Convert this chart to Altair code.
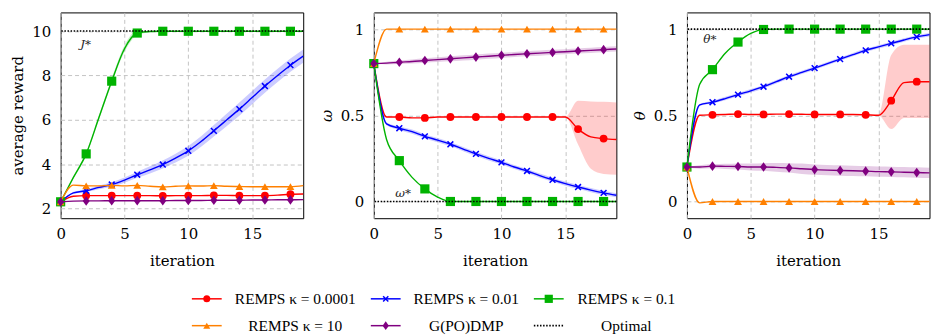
import altair as alt
import pandas as pd

# ---------------- data ----------------
iterations = list(range(20))

series_names = ["REMPS κ = 0.0001", "REMPS κ = 0.01", "REMPS κ = 0.1", "REMPS κ = 10", "G(PO)DMP"]
optimal_label = "Optimal"

# panel 1: average reward
reward_red = [2.30, 2.55, 2.58, 2.58, 2.58, 2.58, 2.58, 2.58, 2.57, 2.58, 2.58, 2.58, 2.59, 2.59, 2.58, 2.58, 2.58, 2.60, 2.64, 2.65]
reward_blue = [2.30, 2.70, 2.80, 2.95, 3.08, 3.28, 3.52, 3.74, 3.98, 4.27, 4.60, 5.02, 5.50, 5.99, 6.48, 7.00, 7.52, 8.00, 8.46, 8.87]
reward_green = [2.30, 3.40, 4.46, 6.10, 7.74, 9.20, 9.91, 9.98, 9.99, 9.99, 9.99, 9.99, 9.99, 9.99, 9.99, 9.99, 9.99, 9.99, 9.99, 9.99]
reward_orange = [2.30, 3.05, 3.02, 3.02, 3.04, 3.02, 3.04, 3.00, 2.97, 3.00, 3.02, 3.01, 3.03, 3.00, 2.99, 2.98, 2.98, 2.98, 2.98, 3.03]
reward_purple = [2.30, 2.33, 2.34, 2.34, 2.35, 2.35, 2.35, 2.35, 2.35, 2.36, 2.36, 2.36, 2.37, 2.37, 2.37, 2.38, 2.38, 2.39, 2.39, 2.40]
reward_blue_band = [0.0, 0.05, 0.06, 0.08, 0.10, 0.12, 0.14, 0.16, 0.18, 0.20, 0.22, 0.24, 0.26, 0.28, 0.30, 0.30, 0.30, 0.30, 0.30, 0.30]
reward_green_band = [0.0, 0.05, 0.08, 0.10, 0.12, 0.15, 0.10, 0.03, 0.0, 0.0, 0.0, 0.0, 0.0, 0.0, 0.0, 0.0, 0.0, 0.0, 0.0, 0.0]
reward_optimal = 10

# panel 2: omega
omega_red = [0.80, 0.49, 0.49, 0.485, 0.485, 0.49, 0.49, 0.49, 0.49, 0.49, 0.49, 0.49, 0.49, 0.49, 0.49, 0.49, 0.42, 0.375, 0.365, 0.36]
omega_red_lo = [0.80, 0.49, 0.49, 0.485, 0.485, 0.49, 0.49, 0.49, 0.49, 0.49, 0.49, 0.49, 0.49, 0.49, 0.49, 0.49, 0.33, 0.19, 0.16, 0.155]
omega_red_hi = [0.80, 0.49, 0.49, 0.485, 0.485, 0.49, 0.49, 0.49, 0.49, 0.49, 0.49, 0.49, 0.49, 0.49, 0.49, 0.49, 0.585, 0.58, 0.578, 0.575]
omega_blue = [0.80, 0.45, 0.425, 0.405, 0.378, 0.356, 0.332, 0.304, 0.276, 0.25, 0.227, 0.20, 0.177, 0.15, 0.126, 0.104, 0.084, 0.066, 0.05, 0.036]
omega_green = [0.80, 0.36, 0.237, 0.14, 0.073, 0.025, 0.0, 0.0, 0.0, 0.0, 0.0, 0.0, 0.0, 0.0, 0.0, 0.0, 0.0, 0.0, 0.0, 0.0]
omega_orange = [0.80, 1.0, 1.0, 1.0, 1.0, 1.0, 1.0, 1.0, 1.0, 1.0, 1.0, 1.0, 1.0, 1.0, 1.0, 1.0, 1.0, 1.0, 1.0, 1.0]
omega_purple = [0.80, 0.803, 0.808, 0.812, 0.818, 0.823, 0.828, 0.833, 0.838, 0.843, 0.848, 0.853, 0.857, 0.861, 0.865, 0.869, 0.873, 0.877, 0.881, 0.885]
omega_blue_band = [0.0, 0.008, 0.01, 0.012, 0.012, 0.012, 0.012, 0.012, 0.012, 0.012, 0.012, 0.012, 0.012, 0.012, 0.012, 0.012, 0.012, 0.012, 0.012, 0.012]
omega_purple_band = [0.0, 0.008, 0.01, 0.012, 0.013, 0.014, 0.015, 0.015, 0.015, 0.015, 0.015, 0.015, 0.015, 0.015, 0.015, 0.015, 0.015, 0.015, 0.015, 0.015]
omega_optimal = 0

# panel 3: theta
theta_red = [0.20, 0.50, 0.503, 0.505, 0.507, 0.505, 0.505, 0.507, 0.507, 0.506, 0.505, 0.505, 0.505, 0.505, 0.503, 0.50, 0.585, 0.69, 0.695, 0.695]
theta_red_lo = [0.20, 0.50, 0.503, 0.505, 0.507, 0.505, 0.505, 0.507, 0.507, 0.506, 0.505, 0.505, 0.505, 0.505, 0.503, 0.50, 0.42, 0.485, 0.485, 0.485]
theta_red_hi = [0.20, 0.50, 0.503, 0.505, 0.507, 0.505, 0.505, 0.507, 0.507, 0.506, 0.505, 0.505, 0.505, 0.505, 0.503, 0.50, 0.85, 0.91, 0.91, 0.91]
theta_blue = [0.20, 0.56, 0.576, 0.597, 0.62, 0.642, 0.666, 0.695, 0.724, 0.749, 0.774, 0.80, 0.826, 0.852, 0.877, 0.897, 0.917, 0.937, 0.955, 0.968]
theta_green = [0.20, 0.68, 0.765, 0.86, 0.925, 0.975, 0.998, 1.0, 1.0, 1.0, 1.0, 1.0, 1.0, 1.0, 1.0, 1.0, 1.0, 1.0, 1.0, 1.0]
theta_orange = [0.20, -0.008, 0.0, 0.0, 0.0, 0.0, 0.0, 0.0, 0.0, 0.0, 0.0, 0.0, 0.0, 0.0, 0.0, 0.0, 0.0, 0.0, 0.0, 0.0]
theta_purple = [0.20, 0.20, 0.205, 0.204, 0.203, 0.20, 0.20, 0.198, 0.195, 0.19, 0.185, 0.182, 0.18, 0.178, 0.176, 0.173, 0.172, 0.17, 0.168, 0.166]
theta_blue_band = [0.0, 0.006, 0.008, 0.01, 0.01, 0.01, 0.01, 0.01, 0.01, 0.01, 0.01, 0.01, 0.01, 0.01, 0.01, 0.01, 0.01, 0.01, 0.01, 0.01]
theta_purple_band = [0.0, 0.01, 0.012, 0.015, 0.018, 0.02, 0.022, 0.025, 0.027, 0.03, 0.03, 0.03, 0.03, 0.03, 0.03, 0.03, 0.03, 0.03, 0.03, 0.03]
theta_optimal = 1

# annotation labels for the optimum
opt_labels = ["J*", "ω*", "θ*"]
opt_label_x = [1.95, 2.3, 1.8]
opt_label_y = [9.4, 0.05, 0.94]

# ---------------- styles ----------------
COLORS = ["#ff0000", "#0000ff", "#00b300", "#ff8000", "#800080"]
X_SHAPE = "M-1,-1L1,1M-1,1L1,-1"
DIAMOND = "M0,-1L0.72,0L0,1L-0.72,0Z"
MARKERS = [
    dict(shape="circle", size=62, filled=True),
    dict(shape=X_SHAPE, size=34, filled=False, strokeWidth=1.5),
    dict(shape="square", size=85, filled=True),
    dict(shape="triangle-up", size=62, filled=True),
    dict(shape=DIAMOND, size=95, filled=True),
]
AXFONT = "DejaVu Serif"
PW, PH = 244, 207


def band_frame(vals, lo=None, hi=None, half=None):
    df = pd.DataFrame({"iter": iterations, "v": vals})
    if half is not None:
        df["lo"] = [a - b for a, b in zip(vals, half)]
        df["hi"] = [a + b for a, b in zip(vals, half)]
    else:
        df["lo"] = lo
        df["hi"] = hi
    return df


def panel(series, bands, ydomain, yticks, ytitle, italic, opt, li):
    xs = alt.Scale(domain=[0, 19], nice=False, zero=False)
    ys = alt.Scale(domain=ydomain, nice=False, zero=False)
    xaxis = alt.Axis(values=[0, 5, 10, 15], grid=True, gridDash=[4, 3], gridColor="#bdbdbd",
                     gridWidth=0.9, ticks=False, tickSize=0, domain=False, labelFont=AXFONT,
                     labelFontSize=15, labelColor="black", labelPadding=8, labelFlush=False,
                     title="iteration", titleFont=AXFONT, titleFontSize=15,
                     titleFontWeight="normal", titleColor="black", titlePadding=13)
    yaxis_kw = dict(values=yticks, format="~r", grid=True, gridDash=[4, 3], gridColor="#bdbdbd",
                    gridWidth=0.9, ticks=False, tickSize=0, domain=False, labelFont=AXFONT,
                    labelFontSize=15, labelColor="black", labelPadding=10, labelFlush=False,
                    title=ytitle, titleFont=AXFONT, titleFontSize=15, titleFontWeight="normal",
                    titleColor="black", titlePadding=6)
    if italic:
        yaxis_kw["titleFontStyle"] = "italic"
    yaxis = alt.Axis(**yaxis_kw)
    X = alt.X("iter:Q", scale=xs, axis=xaxis)
    layers = []
    for idx, df in bands:
        layers.append(
            alt.Chart(df).mark_area(color=COLORS[idx], opacity=0.2, interpolate="monotone").encode(
                x=X, y=alt.Y("lo:Q", scale=ys, axis=yaxis), y2="hi:Q"))
    for idx, vals in enumerate(series):
        df = pd.DataFrame({"iter": iterations, "v": vals})
        layers.append(
            alt.Chart(df).mark_line(color=COLORS[idx], strokeWidth=1.4, interpolate="monotone").encode(
                x=X, y=alt.Y("v:Q", scale=ys, axis=yaxis)))
        m = MARKERS[idx]
        kw = dict(shape=m["shape"], size=m["size"], filled=m["filled"], color=COLORS[idx], opacity=1)
        if "strokeWidth" in m:
            kw["strokeWidth"] = m["strokeWidth"]
        layers.append(
            alt.Chart(df).transform_filter("datum.iter % 2 == 0").mark_point(**kw).encode(
                x=X, y=alt.Y("v:Q", scale=ys, axis=yaxis)))
    layers.append(
        alt.Chart(pd.DataFrame({"v": [opt]})).mark_rule(color="black", strokeWidth=1.6,
                                                       strokeDash=[1.5, 1.6]).encode(
            y=alt.Y("v:Q", scale=ys, axis=yaxis)))
    layers.append(
        alt.Chart(pd.DataFrame({"iter": [opt_label_x[li]], "v": [opt_label_y[li]],
                                "t": [opt_labels[li]]})).mark_text(
            font=AXFONT, fontStyle="italic", fontSize=12, color="#222222").encode(
            x=X, y=alt.Y("v:Q", scale=ys, axis=yaxis), text="t:N"))
    return alt.layer(*layers).properties(width=PW, height=PH)


p1 = panel([reward_red, reward_blue, reward_green, reward_orange, reward_purple],
           [(1, band_frame(reward_blue, half=reward_blue_band)),
            (2, band_frame(reward_green, half=reward_green_band))],
           [1.56, 10.84], [2, 4, 6, 8, 10], "average reward", False, reward_optimal, 0)
p2 = panel([omega_red, omega_blue, omega_green, omega_orange, omega_purple],
           [(0, band_frame(omega_red, lo=omega_red_lo, hi=omega_red_hi)),
            (1, band_frame(omega_blue, half=omega_blue_band)),
            (4, band_frame(omega_purple, half=omega_purple_band))],
           [-0.097, 1.097], [0, 0.5, 1], "ω", True, omega_optimal, 1)
p3 = panel([theta_red, theta_blue, theta_green, theta_orange, theta_purple],
           [(0, band_frame(theta_red, lo=theta_red_lo, hi=theta_red_hi)),
            (1, band_frame(theta_blue, half=theta_blue_band)),
            (4, band_frame(theta_purple, half=theta_purple_band))],
           [-0.097, 1.097], [0, 0.5, 1], "θ", True, theta_optimal, 2)

# ---------------- legend (separate small chart) ----------------
LW, LH = 640, 43.2
sym_cx = [147, 327, 491]
lab_cx = [236, 408, 569]
leg_labels = series_names + [optimal_label]
leg_rows = [i // 3 for i in range(6)]
leg_cols = [i % 3 for i in range(6)]
lx = alt.Scale(domain=[0, LW], nice=False, zero=False)
ly = alt.Scale(domain=[-0.3, 1.3], nice=False, zero=False, reverse=True)

leg_layers = []
for i, lab in enumerate(leg_labels):
    c = leg_cols[i]
    d = pd.DataFrame({"x1": [sym_cx[c] - 15], "x2": [sym_cx[c] + 15], "xc": [sym_cx[c]],
                      "xl": [lab_cx[c]], "row": [leg_rows[i]], "label": [lab]})
    if i < 5:
        leg_layers.append(alt.Chart(d).mark_rule(color=COLORS[i], strokeWidth=1.5).encode(
            x=alt.X("x1:Q", scale=lx, axis=None), x2="x2:Q", y=alt.Y("row:Q", scale=ly, axis=None)))
        m = MARKERS[i]
        kw = dict(shape=m["shape"], size=m["size"] * 0.8, filled=m["filled"], color=COLORS[i], opacity=1)
        if "strokeWidth" in m:
            kw["strokeWidth"] = m["strokeWidth"]
        leg_layers.append(alt.Chart(d).mark_point(**kw).encode(
            x=alt.X("xc:Q", scale=lx, axis=None), y=alt.Y("row:Q", scale=ly, axis=None)))
    else:
        leg_layers.append(alt.Chart(d).mark_rule(color="black", strokeWidth=1.6,
                                                 strokeDash=[1.5, 1.6]).encode(
            x=alt.X("x1:Q", scale=lx, axis=None), x2="x2:Q", y=alt.Y("row:Q", scale=ly, axis=None)))
    leg_layers.append(alt.Chart(d).mark_text(font="Liberation Serif", fontSize=15.5,
                                             align="center", baseline="middle", color="black").encode(
        x=alt.X("xl:Q", scale=lx, axis=None), y=alt.Y("row:Q", scale=ly, axis=None), text="label:N"))

legend = alt.layer(*leg_layers).properties(width=LW, height=LH,
                                           view=alt.ViewBackground(stroke="transparent"))

top = alt.hconcat(p1, p2, p3, spacing=71, bounds="flush")
chart = alt.vconcat(top, legend, spacing=20, bounds="full").properties(
    padding={"left": 10, "top": 10.5, "right": -2.5, "bottom": 0},
    autosize=alt.AutoSizeParams(type="pad"),
).configure_view(stroke="black", strokeWidth=1)

chart.save("out.html", embed_options={"renderer": "svg", "actions": False})
